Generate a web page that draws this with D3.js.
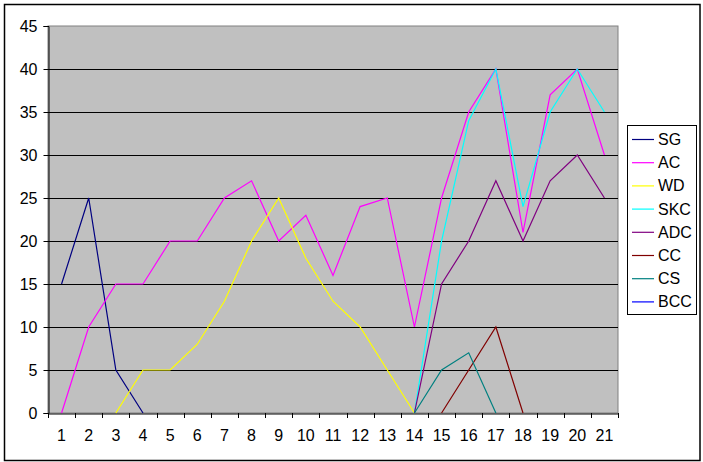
<!DOCTYPE html>
<html>
<head>
  <script src="https://d3js.org/d3.v7.min.js"></script>
  <style>
    body { margin: 0; background: #fff; }
    text { font-family: "Liberation Sans", Arial, sans-serif; }
  </style>
</head>
<body>
<div id="chart"></div>
<script>
const categories = d3.range(1, 22).map(String);
const seriesNames = ["SG", "AC", "WD", "SKC", "ADC", "CC", "CS", "BCC"];
const seriesColors = ["#000080", "#ff00ff", "#ffff00", "#00ffff", "#800080", "#800000", "#008080", "#0000ff"];
const N = null;
const SG  = [15, 25, 5, 0, N, N, N, N, N, N, N, N, N, N, N, N, N, N, N, N, N];
const AC  = [0, 10, 15, 15, 20, 20, 25, 27, 20, 23, 16, 24, 25, 10, 25, 35, 40, 21, 37, 40, 30];
const WD  = [N, N, 0, 5, 5, 8, 13, 20, 25, 18, 13, 10, 5, 0, N, N, N, N, N, N, N];
const SKC = [N, N, N, N, N, N, N, N, N, N, N, N, N, 0, 20, 34, 40, 24, 35, 40, 35];
const ADC = [N, N, N, N, N, N, N, N, N, N, N, N, N, 0, 15, 20, 27, 20, 27, 30, 25];
const CC  = [N, N, N, N, N, N, N, N, N, N, N, N, N, N, 0, 5, 10, 0, N, N, N];
const CS  = [N, N, N, N, N, N, N, N, N, N, N, N, N, 0, 5, 7, 0, N, N, N, N];
const BCC = [N, N, N, N, N, N, N, N, N, N, N, N, N, N, N, N, N, N, N, N, N];
const seriesValues = [SG, AC, WD, SKC, ADC, CC, CS, BCC];
const yTicks = d3.range(0, 46, 5);

const W = 703, H = 462;
const plot = { left: 48, right: 618, top: 26, bottom: 413 };

const svg = d3.select("#chart").append("svg")
  .attr("width", W).attr("height", H);

// outer chart border
svg.append("rect")
  .attr("x", 4.5).attr("y", 4.5)
  .attr("width", 695.5).attr("height", 456)
  .attr("fill", "#fff").attr("stroke", "#000").attr("stroke-width", 1.5);

const x = d3.scaleBand().domain(categories).range([plot.left, plot.right]);
const y = d3.scaleLinear().domain([0, 45]).range([plot.bottom, plot.top]);

// plot area
svg.append("rect")
  .attr("x", plot.left).attr("y", plot.top)
  .attr("width", plot.right - plot.left).attr("height", plot.bottom - plot.top)
  .attr("fill", "#c0c0c0").attr("stroke", "#808080");

// gridlines
svg.append("g").selectAll("line")
  .data(yTicks.filter(v => v > 0 && v < 45))
  .join("line")
  .attr("x1", plot.left).attr("x2", plot.right)
  .attr("y1", d => Math.round(y(d)) + 0.5).attr("y2", d => Math.round(y(d)) + 0.5)
  .attr("stroke", "#000");

// y axis
const yAxis = svg.append("g")
  .attr("transform", `translate(${plot.left + 0.5},0)`)
  .call(d3.axisLeft(y).tickValues(yTicks).tickSize(5).tickPadding(6));
yAxis.selectAll("text").attr("font-size", 16).attr("fill", "#000");
yAxis.selectAll("line, path").attr("stroke", "#000");

// x axis labels
const xAxis = svg.append("g")
  .attr("transform", `translate(0,${plot.bottom + 0.5})`)
  .call(d3.axisBottom(x).tickSize(0).tickPadding(16));
xAxis.selectAll("text").attr("font-size", 16).attr("fill", "#000");
xAxis.select("path").attr("stroke", "#000");

// x ticks at category boundaries
svg.append("g").selectAll("line")
  .data(categories.map(c => x(c)).concat([plot.right]))
  .join("line")
  .attr("x1", d => Math.round(d) + 0.5).attr("x2", d => Math.round(d) + 0.5)
  .attr("y1", plot.bottom).attr("y2", plot.bottom + 5)
  .attr("stroke", "#000");

// series
const line = d3.line()
  .defined(d => d != null)
  .x((d, i) => x(categories[i]) + x.bandwidth() / 2)
  .y(d => y(d));

svg.append("g").selectAll("path")
  .data(seriesValues)
  .join("path")
  .attr("d", d => line(d))
  .attr("fill", "none")
  .attr("stroke", (d, i) => seriesColors[i])
  .attr("stroke-width", 1.2);

// legend
const legend = svg.append("g");
legend.append("rect")
  .attr("x", 627.5).attr("y", 125.5)
  .attr("width", 69).attr("height", 189)
  .attr("fill", "#fff").attr("stroke", "#000");

const item = legend.selectAll("g.item")
  .data(seriesNames)
  .join("g")
  .attr("class", "item")
  .attr("transform", (d, i) => `translate(0,${139 + i * 23.2})`);
item.append("line")
  .attr("x1", 632).attr("x2", 654)
  .attr("y1", 0.5).attr("y2", 0.5)
  .attr("stroke", (d, i) => seriesColors[i]).attr("stroke-width", 1.2);
item.append("text")
  .attr("x", 658).attr("y", 6)
  .attr("font-size", 16)
  .text(d => d);
</script>
</body>
</html>
